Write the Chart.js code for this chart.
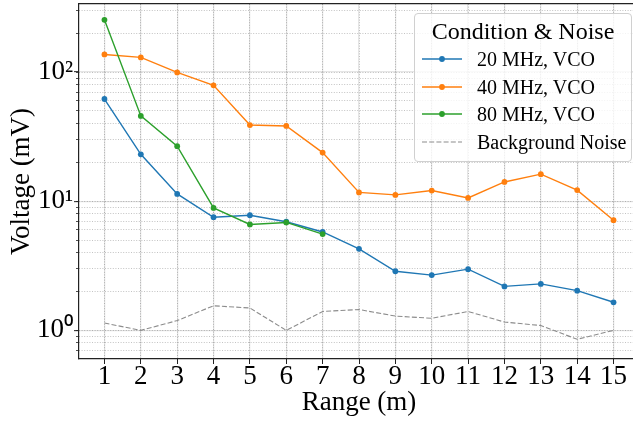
<!DOCTYPE html>
<html><head><meta charset="utf-8">
<script src="https://cdn.jsdelivr.net/npm/chart.js@4"></script>
<style>
html,body{margin:0;padding:0;overflow:hidden;background:#fff;width:633px;height:421px;}
#wrap{position:relative;width:645px;height:421px;}
#c{position:absolute;left:0;top:0;}
#legend{position:absolute;left:414px;top:13px;width:218px;height:149px;border:1px solid #d0d0d0;border-radius:4px;background:rgba(255,255,255,0.8);font-family:'Liberation Serif',serif;box-sizing:border-box;color:#000;}
#legend .t{position:absolute;left:0;width:100%;text-align:center;font-size:24px;line-height:28px;top:3px;}
#legend .r{position:absolute;left:7px;height:28px;line-height:28px;font-size:20px;white-space:nowrap;}
#legend .r canvas{position:absolute;left:0;top:9px;}
#legend .r span{position:absolute;left:55px;top:0;}
</style></head>
<body>
<div id="wrap">
<canvas id="c" width="645" height="421"></canvas>
<div id="legend"></div>
</div>
<script>
// ---- data ----
const ranges = [1,2,3,4,5,6,7,8,9,10,11,12,13,14,15];
const v20MHz = [61.9, 23.1, 11.4, 7.52, 7.79, 6.94, 5.78, 4.28, 2.87, 2.68, 2.98, 2.19, 2.29, 2.03, 1.65];
const v40MHz = [137, 130, 99.5, 79, 38.9, 38.3, 23.8, 11.7, 11.2, 12.1, 10.6, 14.1, 16.2, 12.2, 7.13];
const v80MHz = [254, 45.8, 26.7, 8.87, 6.61, 6.85, 5.57];
const noise  = [1.14, 1.0, 1.19, 1.55, 1.49, 1.0, 1.40, 1.45, 1.29, 1.24, 1.40, 1.16, 1.09, 0.853, 1.0];
const seriesNames = ['20 MHz, VCO', '40 MHz, VCO', '80 MHz, VCO', 'Background Noise'];
const legendTitle = 'Condition & Noise';
const xTicks = ranges;
const yMajorTicks = [1, 10, 100];
const yMinorTicks = [0.7,0.8,0.9,2,3,4,5,6,7,8,9,20,30,40,50,60,70,80,90,200,300];
const xTitle = 'Range (m)';
const yTitle = 'Voltage (mV)';

const colors = ['#1f77b4', '#ff7f0e', '#2ca02c', '#8c8c8c'];
const FONT = "'Liberation Serif', 'Times New Roman', serif";
const sup = {'0':'\u2070','1':'\u00b9','2':'\u00b2','3':'\u00b3'};

const pts = (arr) => arr.map((v, i) => ({x: ranges[i], y: v}));
const XMIN = 0.3, XMAX = 15.7, YMIN = 0.633, YMAX = 337;

const allY = yMajorTicks.concat(yMinorTicks).sort((a,b)=>a-b);

const ds = [
  {label: seriesNames[0], data: pts(v20MHz), color: colors[0], order: 4},
  {label: seriesNames[1], data: pts(v40MHz), color: colors[1], order: 3},
  {label: seriesNames[2], data: pts(v80MHz), color: colors[2], order: 2},
].map(d => ({label: d.label, data: d.data, borderColor: d.color, backgroundColor: d.color,
  pointBackgroundColor: d.color, pointBorderWidth: 0, pointRadius: 2.9, borderWidth: 1.4, order: d.order, tension: 0}));
ds.push({label: seriesNames[3], data: pts(noise), borderColor: colors[3], borderWidth: 1.1,
  borderDash: [5, 2.2], pointRadius: 0, order: 1, tension: 0});

const zeroPad = s => { s.paddingTop = 0; s.paddingBottom = 0; s.paddingLeft = 0; s.paddingRight = 0; };

new Chart(document.getElementById('c'), {
  type: 'line',
  data: {datasets: ds},
  options: {
    responsive: false, animation: false, devicePixelRatio: 1,
    layout: {padding: {left: 0, top: 3, right: 6, bottom: 0}},
    plugins: {legend: {display: false}, tooltip: {enabled: false}},
    scales: {
      x: {
        type: 'linear', position: 'bottom', min: XMIN, max: XMAX, weight: 1,
        afterBuildTicks: s => { s.ticks = xTicks.map(v => ({value: v})); },
        afterFit: s => { s.height = 62; zeroPad(s); },
        ticks: {font: {family: FONT, size: 27}, color: '#000', padding: -3, maxRotation: 0, autoSkip: false,
          callback: v => String(v)},
        grid: {color: '#b4b4b4', lineWidth: 0.8, tickColor: '#222', tickLength: 5, tickWidth: 1},
        border: {display: false, dash: [1, 1.6]},
        title: {display: true, text: xTitle, font: {family: FONT, size: 27}, color: '#000', padding: {top: 0, bottom: 2}}
      },
      x2: {
        type: 'linear', position: 'bottom', min: XMIN, max: XMAX, weight: 0,
        afterBuildTicks: s => { s.ticks = xTicks.map(v => ({value: v})); },
        afterFit: s => { s.height = 0; zeroPad(s); },
        ticks: {display: false},
        grid: {color: 'rgba(0,0,0,0.1)', lineWidth: 1.3, drawTicks: false},
        border: {display: true, color: '#222', width: 1.2}
      },
      xTop: {
        type: 'linear', position: 'top', min: XMIN, max: XMAX,
        afterFit: s => { s.height = 0; zeroPad(s); },
        ticks: {display: false},
        grid: {display: false, drawTicks: false},
        border: {display: true, color: '#222', width: 1.2}
      },
      y: {
        type: 'logarithmic', position: 'left', min: YMIN, max: YMAX, weight: 1,
        afterBuildTicks: s => { s.ticks = allY.map(v => ({value: v, major: yMajorTicks.includes(v)})); },
        afterFit: s => { s.width = 79; zeroPad(s); },
        ticks: {font: {family: FONT, size: 27}, color: '#000', padding: 3, autoSkip: false,
          callback: v => { const e = Math.round(Math.log10(v)); return yMajorTicks.includes(v) ? '10' + (sup[String(e)] || '') : ''; }},
        grid: {color: '#b4b4b4', lineWidth: 0.8, tickColor: '#222', tickLength: 3, tickWidth: 0.8},
        border: {display: false, dash: [1, 1.6]},
        title: {display: true, text: yTitle, font: {family: FONT, size: 27}, color: '#000', padding: {top: 6, bottom: 0}}
      },
      y2: {
        type: 'logarithmic', position: 'left', min: YMIN, max: YMAX, weight: 0,
        afterBuildTicks: s => { s.ticks = yMajorTicks.map(v => ({value: v})); },
        afterFit: s => { s.width = 0; zeroPad(s); },
        ticks: {display: false},
        grid: {color: 'rgba(0,0,0,0.1)', lineWidth: 1.3, tickColor: '#222', tickLength: 5, tickWidth: 1},
        border: {display: true, color: '#222', width: 1.2}
      }
    }
  }
});

// ---- legend (HTML, real text) ----
const lg = document.getElementById('legend');
const t = document.createElement('div'); t.className = 't'; t.textContent = legendTitle; lg.appendChild(t);
const rowTops = [31, 59, 86, 114];
seriesNames.forEach((name, i) => {
  const r = document.createElement('div'); r.className = 'r'; r.style.top = rowTops[i] + 'px';
  const cv = document.createElement('canvas'); cv.width = 40; cv.height = 10;
  const cx = cv.getContext('2d');
  cx.strokeStyle = colors[i]; cx.lineWidth = i === 3 ? 1.1 : 1.4;
  if (i === 3) cx.setLineDash([5, 2.2]);
  cx.beginPath(); cx.moveTo(0, 5); cx.lineTo(40, 5); cx.stroke();
  if (i < 3) { cx.fillStyle = colors[i]; cx.beginPath(); cx.arc(20, 5, 2.9, 0, Math.PI*2); cx.fill(); }
  const sp = document.createElement('span'); sp.textContent = name;
  r.appendChild(cv); r.appendChild(sp); lg.appendChild(r);
});
</script>
</body></html>
